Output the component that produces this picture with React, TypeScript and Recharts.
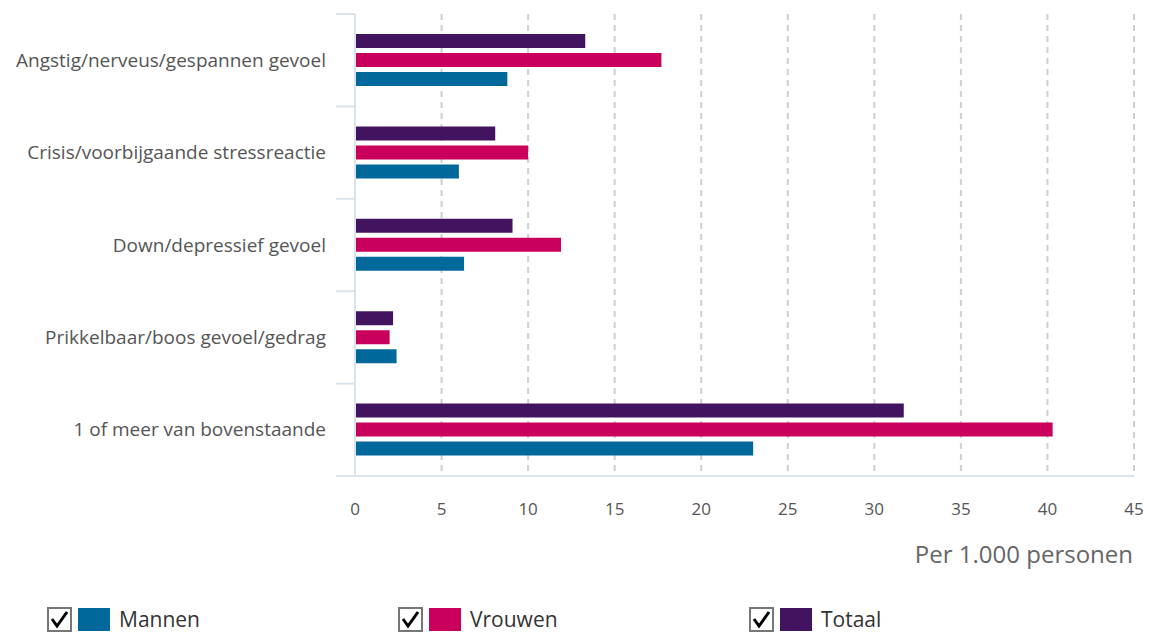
import { BarChart, Bar, XAxis, YAxis, CartesianGrid } from 'recharts';

const categories = [
  'Angstig/nerveus/gespannen gevoel',
  'Crisis/voorbijgaande stressreactie',
  'Down/depressief gevoel',
  'Prikkelbaar/boos gevoel/gedrag',
  '1 of meer van bovenstaande',
];
const mannen = [8.8, 6.0, 6.3, 2.4, 23.0];
const vrouwen = [17.7, 10.0, 11.9, 2.0, 40.3];
const totaal = [13.3, 8.1, 9.1, 2.2, 31.7];
const xTicks = [0, 5, 10, 15, 20, 25, 30, 35, 40, 45];

const series = [
  { key: 'mannen', name: 'Mannen', color: '#01689b' },
  { key: 'vrouwen', name: 'Vrouwen', color: '#ca005d' },
  { key: 'totaal', name: 'Totaal', color: '#42145f' },
];

const FONT = '"Open Sans", sans-serif';
const AXIS = '#dbe4ec';
const BAND = 92.4;

// label + tick marks on the band edges (not the centres)
function CatTick({ x, y, payload, index }: any) {
  return (
    <g>
      <line x1={x - 11} x2={x + 8} y1={y - BAND / 2} y2={y - BAND / 2} stroke={AXIS} strokeWidth={2} />
      {index === categories.length - 1 && (
        <line x1={x - 11} x2={x + 8} y1={y + BAND / 2} y2={y + BAND / 2} stroke={AXIS} strokeWidth={2} />
      )}
      <text x={x - 21} y={y} dy="0.35em" textAnchor="end" fill="#555" fontSize={19} fontFamily={FONT}>
        {payload.value}
      </text>
    </g>
  );
}

function CheckBox() {
  return (
    <svg width={25} height={25} style={{ display: 'block' }}>
      <rect x={1} y={1} width={23} height={23} fill="#fff" stroke="#777" strokeWidth={2} />
      <path d="M5 12 L10 19 L20 5" fill="none" stroke="#000" strokeWidth={3} />
    </svg>
  );
}

export default function App() {
  const data = categories.map((c, i) => ({
    category: c,
    mannen: mannen[i],
    vrouwen: vrouwen[i],
    totaal: totaal[i],
  }));

  return (
    <div style={{ position: 'absolute', left: 0, top: 0, width: 1150, height: 632, background: '#fff', fontFamily: FONT }}>
      <BarChart
        width={1150}
        height={531}
        data={data}
        layout="vertical"
        margin={{ top: 14, right: 16, left: 0, bottom: 0 }}
        barSize={14}
        barGap={5}
        barCategoryGap={20}
      >
        <CartesianGrid horizontal={false} stroke="#cfcfcf" strokeWidth={2} strokeDasharray="6 5" />
        <XAxis
          type="number"
          domain={[0, 45]}
          ticks={xTicks}
          height={55}
          axisLine={{ stroke: AXIS, strokeWidth: 2 }}
          tickLine={false}
          tickMargin={21}
          tick={{ fill: '#555', fontSize: 17, fontFamily: FONT }}
        />
        <YAxis
          type="category"
          dataKey="category"
          width={355}
          axisLine={{ stroke: AXIS, strokeWidth: 2 }}
          tickLine={false}
          tick={<CatTick />}
        />
        {[...series].reverse().map(s => (
          <Bar key={s.key} dataKey={s.key} name={s.name} fill={s.color} isAnimationActive={false} />
        ))}
      </BarChart>
      <div style={{ position: 'absolute', right: 17, top: 537, fontSize: 24, color: '#666' }}>
        Per 1.000 personen
      </div>
      {series.map((s, i) => (
        <div key={s.key} style={{ position: 'absolute', left: 47 + i * 351, top: 605, display: 'flex', alignItems: 'center' }}>
          <CheckBox />
          <div style={{ width: 32, height: 23, background: s.color, marginLeft: 6 }} />
          <span style={{ marginLeft: 9, fontSize: 21, color: '#333' }}>{s.name}</span>
        </div>
      ))}
    </div>
  );
}
